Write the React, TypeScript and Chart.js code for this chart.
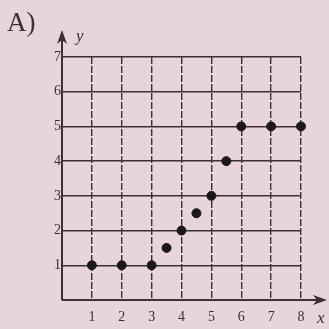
import React, { useEffect, useRef } from "react";
import { Chart, registerables } from "chart.js";

Chart.register(...registerables);

// Plotted points (x, y)
const xValues = [1, 2, 3, 3.5, 4, 4.5, 5, 5.5, 6, 7, 8];
const yValues = [1, 1, 1, 1.5, 2, 2.5, 3, 4, 5, 5, 5];

// Axis ranges and labels
const xMax = 8;
const yMax = 7;
const panelLabel = "A)";
const xAxisName = "x";
const yAxisName = "y";

const INK = "#3a3036";
const PAPER = "#e8d4dc";
const SERIF = "'Liberation Serif', 'DejaVu Serif', serif";

// Draws the two axes with arrowheads plus the panel letter and axis names.
const axesPlugin = {
  id: "arrowAxes",
  afterDraw(chart: any) {
    const { ctx, scales } = chart;
    const xs = scales.x;
    const ys = scales.y;
    const x0 = xs.getPixelForValue(0);
    const y0 = ys.getPixelForValue(0);
    const xEnd = chart.width - 2;
    const yEnd = 30;
    ctx.save();
    ctx.strokeStyle = INK;
    ctx.fillStyle = INK;
    ctx.lineWidth = 2;
    ctx.setLineDash([]);
    // x axis
    ctx.beginPath();
    ctx.moveTo(x0, y0);
    ctx.lineTo(xEnd - 6, y0);
    ctx.stroke();
    ctx.beginPath();
    ctx.moveTo(xEnd, y0);
    ctx.lineTo(xEnd - 14, y0 - 5);
    ctx.lineTo(xEnd - 10, y0);
    ctx.lineTo(xEnd - 14, y0 + 5);
    ctx.closePath();
    ctx.fill();
    // y axis
    ctx.beginPath();
    ctx.moveTo(x0, y0);
    ctx.lineTo(x0, yEnd + 6);
    ctx.stroke();
    ctx.beginPath();
    ctx.moveTo(x0, yEnd);
    ctx.lineTo(x0 - 5, yEnd + 14);
    ctx.lineTo(x0, yEnd + 10);
    ctx.lineTo(x0 + 5, yEnd + 14);
    ctx.closePath();
    ctx.fill();

    // texts
    ctx.textBaseline = "middle";
    ctx.font = `27px ${SERIF}`;
    ctx.textAlign = "left";
    ctx.fillText(panelLabel, 7, 24);
    ctx.font = `italic 17px ${SERIF}`;
    ctx.fillText(yAxisName, x0 + 14, 37);
    ctx.fillText(xAxisName, 317, 319);
    ctx.restore();
  },
};

export default function App() {
  const canvasRef = useRef<HTMLCanvasElement | null>(null);

  useEffect(() => {
    const canvas = canvasRef.current;
    if (!canvas) return;
    const points = xValues.map((x, i) => ({ x, y: yValues[i] }));
    const chart = new Chart(canvas, {
      type: "scatter",
      data: {
        datasets: [
          {
            data: points,
            backgroundColor: "#1c171a",
            borderColor: "#1c171a",
            pointRadius: 4.5,
            pointHoverRadius: 4.5,
            clip: false,
          },
        ],
      },
      options: {
        responsive: false,
        animation: false,
        events: [],
        layout: { padding: { left: 0, top: 57, right: 28, bottom: 0 } },
        plugins: {
          legend: { display: false },
          tooltip: { enabled: false },
          title: { display: false },
        },
        scales: {
          x: {
            type: "linear",
            min: 0,
            max: xMax,
            afterFit: (scale: any) => {
              scale.height = 29;
            },
            grid: {
              color: INK,
              lineWidth: 1.4,
              drawTicks: false,
            },
            border: { display: false, dash: [7, 2] },
            ticks: {
              stepSize: 1,
              padding: 9,
              color: INK,
              font: { family: SERIF, size: 14 },
              callback: (v: any) => (v === 0 ? "" : String(v)),
            },
          },
          y: {
            type: "linear",
            min: 0,
            max: yMax,
            afterFit: (scale: any) => {
              scale.width = 62;
            },
            grid: {
              color: INK,
              lineWidth: 1.4,
              drawTicks: false,
            },
            border: { display: false },
            ticks: {
              stepSize: 1,
              padding: 1,
              color: INK,
              font: { family: SERIF, size: 14 },
              callback: (v: any) => (v === 0 ? "" : String(v)),
            },
          },
        },
      },
      plugins: [axesPlugin],
    });
    return () => chart.destroy();
  }, []);

  return (
    <div
      style={{
        position: "fixed",
        left: 0,
        top: 0,
        width: 329,
        height: 329,
        background: PAPER,
      }}
    >
      <canvas ref={canvasRef} width={329} height={329} style={{ display: "block" }} />
    </div>
  );
}
